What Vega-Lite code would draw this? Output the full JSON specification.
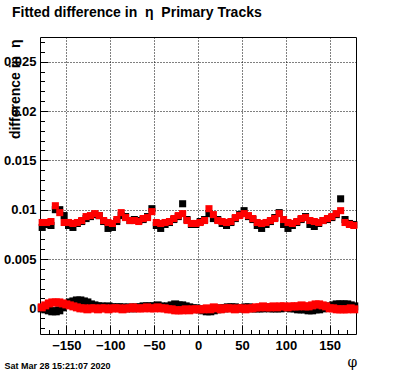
{
  "$schema": "https://vega.github.io/schema/vega-lite/v6.json",
  "width": 316,
  "height": 297,
  "autosize": "none",
  "padding": {"left": 40, "top": 37, "right": 40, "bottom": 38},
  "background": "white",
  "title": {
    "text": "Fitted difference in\u00a0\u00a0η\u00a0\u00a0Primary Tracks",
    "anchor": "start",
    "frame": "group",
    "dx": -28,
    "offset": 17,
    "font": "Liberation Sans",
    "fontWeight": "bold",
    "fontSize": 14,
    "color": "black"
  },
  "config": {
    "view": {"stroke": "black", "strokeWidth": 1},
    "axis": {
      "labelFont": "Liberation Sans",
      "labelFontWeight": "bold",
      "labelFontSize": 13,
      "labelColor": "black",
      "tickColor": "black",
      "domainColor": "black",
      "titleColor": "black",
      "gridColor": "black",
      "gridDash": [1, 2],
      "gridOpacity": 1,
      "gridWidth": 1
    }
  },
  "data": {
    "values": [
      {"s":"ru","phi":-177.5,"d":0.0087},{"s":"ru","phi":-172.5,"d":0.0087},{"s":"ru","phi":-167.5,"d":0.0088},{"s":"ru","phi":-162.5,"d":0.0104},{"s":"ru","phi":-157.5,"d":0.0097},{"s":"ru","phi":-152.5,"d":0.0087},{"s":"ru","phi":-147.5,"d":0.0087},{"s":"ru","phi":-142.5,"d":0.0086},{"s":"ru","phi":-137.5,"d":0.0087},{"s":"ru","phi":-132.5,"d":0.0089},{"s":"ru","phi":-127.5,"d":0.0093},{"s":"ru","phi":-122.5,"d":0.0094},{"s":"ru","phi":-117.5,"d":0.0096},{"s":"ru","phi":-112.5,"d":0.0094},{"s":"ru","phi":-107.5,"d":0.0089},{"s":"ru","phi":-102.5,"d":0.0087},{"s":"ru","phi":-97.5,"d":0.0086},{"s":"ru","phi":-92.5,"d":0.0090},{"s":"ru","phi":-87.5,"d":0.0097},{"s":"ru","phi":-82.5,"d":0.0092},{"s":"ru","phi":-77.5,"d":0.0089},{"s":"ru","phi":-72.5,"d":0.0089},{"s":"ru","phi":-67.5,"d":0.0088},{"s":"ru","phi":-62.5,"d":0.0091},{"s":"ru","phi":-57.5,"d":0.0092},{"s":"ru","phi":-52.5,"d":0.0098},{"s":"ru","phi":-47.5,"d":0.0087},{"s":"ru","phi":-42.5,"d":0.0086},{"s":"ru","phi":-37.5,"d":0.0087},{"s":"ru","phi":-32.5,"d":0.0088},{"s":"ru","phi":-27.5,"d":0.0091},{"s":"ru","phi":-22.5,"d":0.0094},{"s":"ru","phi":-17.5,"d":0.0096},{"s":"ru","phi":-12.5,"d":0.0089},{"s":"ru","phi":-7.5,"d":0.0086},{"s":"ru","phi":-2.5,"d":0.0086},{"s":"ru","phi":2.5,"d":0.0087},{"s":"ru","phi":7.5,"d":0.0089},{"s":"ru","phi":12.5,"d":0.0101},{"s":"ru","phi":17.5,"d":0.0095},{"s":"ru","phi":22.5,"d":0.0089},{"s":"ru","phi":27.5,"d":0.0088},{"s":"ru","phi":32.5,"d":0.0087},{"s":"ru","phi":37.5,"d":0.0088},{"s":"ru","phi":42.5,"d":0.0092},{"s":"ru","phi":47.5,"d":0.0094},{"s":"ru","phi":52.5,"d":0.0096},{"s":"ru","phi":57.5,"d":0.0094},{"s":"ru","phi":62.5,"d":0.0091},{"s":"ru","phi":67.5,"d":0.0087},{"s":"ru","phi":72.5,"d":0.0086},{"s":"ru","phi":77.5,"d":0.0087},{"s":"ru","phi":82.5,"d":0.0089},{"s":"ru","phi":87.5,"d":0.0091},{"s":"ru","phi":92.5,"d":0.0096},{"s":"ru","phi":97.5,"d":0.0090},{"s":"ru","phi":102.5,"d":0.0087},{"s":"ru","phi":107.5,"d":0.0086},{"s":"ru","phi":112.5,"d":0.0088},{"s":"ru","phi":117.5,"d":0.0091},{"s":"ru","phi":122.5,"d":0.0092},{"s":"ru","phi":127.5,"d":0.0089},{"s":"ru","phi":132.5,"d":0.0088},{"s":"ru","phi":137.5,"d":0.0087},{"s":"ru","phi":142.5,"d":0.0089},{"s":"ru","phi":147.5,"d":0.0091},{"s":"ru","phi":152.5,"d":0.0093},{"s":"ru","phi":157.5,"d":0.0096},{"s":"ru","phi":162.5,"d":0.0099},{"s":"ru","phi":167.5,"d":0.0087},{"s":"ru","phi":172.5,"d":0.0085},{"s":"ru","phi":177.5,"d":0.0084},

      {"s":"bu","phi":-177.5,"d":0.0082},{"s":"bu","phi":-172.5,"d":0.0085},{"s":"bu","phi":-167.5,"d":0.0084},{"s":"bu","phi":-162.5,"d":0.0100},{"s":"bu","phi":-157.5,"d":0.0100},{"s":"bu","phi":-152.5,"d":0.0094},{"s":"bu","phi":-147.5,"d":0.0084},{"s":"bu","phi":-142.5,"d":0.0082},{"s":"bu","phi":-137.5,"d":0.0086},{"s":"bu","phi":-132.5,"d":0.0088},{"s":"bu","phi":-127.5,"d":0.0091},{"s":"bu","phi":-122.5,"d":0.0093},{"s":"bu","phi":-117.5,"d":0.0095},{"s":"bu","phi":-112.5,"d":0.0094},{"s":"bu","phi":-107.5,"d":0.0088},{"s":"bu","phi":-102.5,"d":0.0081},{"s":"bu","phi":-97.5,"d":0.0082},{"s":"bu","phi":-92.5,"d":0.0088},{"s":"bu","phi":-87.5,"d":0.0094},{"s":"bu","phi":-82.5,"d":0.0093},{"s":"bu","phi":-77.5,"d":0.0089},{"s":"bu","phi":-72.5,"d":0.0090},{"s":"bu","phi":-67.5,"d":0.0089},{"s":"bu","phi":-62.5,"d":0.0090},{"s":"bu","phi":-57.5,"d":0.0093},{"s":"bu","phi":-52.5,"d":0.0101},{"s":"bu","phi":-47.5,"d":0.0084},{"s":"bu","phi":-42.5,"d":0.0081},{"s":"bu","phi":-37.5,"d":0.0085},{"s":"bu","phi":-32.5,"d":0.0087},{"s":"bu","phi":-27.5,"d":0.0090},{"s":"bu","phi":-22.5,"d":0.0093},{"s":"bu","phi":-17.5,"d":0.0106},{"s":"bu","phi":-12.5,"d":0.0090},{"s":"bu","phi":-7.5,"d":0.0085},{"s":"bu","phi":-2.5,"d":0.0085},{"s":"bu","phi":2.5,"d":0.0088},{"s":"bu","phi":7.5,"d":0.0090},{"s":"bu","phi":12.5,"d":0.0096},{"s":"bu","phi":17.5,"d":0.0091},{"s":"bu","phi":22.5,"d":0.0090},{"s":"bu","phi":27.5,"d":0.0086},{"s":"bu","phi":32.5,"d":0.0084},{"s":"bu","phi":37.5,"d":0.0087},{"s":"bu","phi":42.5,"d":0.0091},{"s":"bu","phi":47.5,"d":0.0095},{"s":"bu","phi":52.5,"d":0.0099},{"s":"bu","phi":57.5,"d":0.0093},{"s":"bu","phi":62.5,"d":0.0090},{"s":"bu","phi":67.5,"d":0.0084},{"s":"bu","phi":72.5,"d":0.0081},{"s":"bu","phi":77.5,"d":0.0085},{"s":"bu","phi":82.5,"d":0.0088},{"s":"bu","phi":87.5,"d":0.0092},{"s":"bu","phi":92.5,"d":0.0097},{"s":"bu","phi":97.5,"d":0.0085},{"s":"bu","phi":102.5,"d":0.0081},{"s":"bu","phi":107.5,"d":0.0084},{"s":"bu","phi":112.5,"d":0.0087},{"s":"bu","phi":117.5,"d":0.0090},{"s":"bu","phi":122.5,"d":0.0093},{"s":"bu","phi":127.5,"d":0.0085},{"s":"bu","phi":132.5,"d":0.0083},{"s":"bu","phi":137.5,"d":0.0086},{"s":"bu","phi":142.5,"d":0.0089},{"s":"bu","phi":147.5,"d":0.0090},{"s":"bu","phi":152.5,"d":0.0092},{"s":"bu","phi":157.5,"d":0.0095},{"s":"bu","phi":162.5,"d":0.0111},{"s":"bu","phi":167.5,"d":0.0090},{"s":"bu","phi":172.5,"d":0.0086},{"s":"bu","phi":177.5,"d":0.0085},

      {"s":"rl","phi":-178,"d":0.0001},{"s":"rl","phi":-174,"d":0.0003},{"s":"rl","phi":-170,"d":0.0005},{"s":"rl","phi":-166,"d":0.0006},{"s":"rl","phi":-162,"d":0.0006},{"s":"rl","phi":-158,"d":0.0006},{"s":"rl","phi":-154,"d":0.0005},{"s":"rl","phi":-150,"d":0.0004},{"s":"rl","phi":-146,"d":0.0003},{"s":"rl","phi":-142,"d":0.0002},{"s":"rl","phi":-138,"d":0.0001},{"s":"rl","phi":-134,"d":0.0000},{"s":"rl","phi":-130,"d":0.0000},{"s":"rl","phi":-126,"d":-0.0001},{"s":"rl","phi":-122,"d":0.0000},{"s":"rl","phi":-118,"d":0.0000},{"s":"rl","phi":-114,"d":-0.0001},{"s":"rl","phi":-110,"d":0.0000},{"s":"rl","phi":-106,"d":0.0000},{"s":"rl","phi":-102,"d":-0.0001},{"s":"rl","phi":-98,"d":0.0000},{"s":"rl","phi":-94,"d":0.0000},{"s":"rl","phi":-90,"d":0.0000},{"s":"rl","phi":-86,"d":-0.0001},{"s":"rl","phi":-82,"d":0.0000},{"s":"rl","phi":-78,"d":0.0000},{"s":"rl","phi":-74,"d":0.0001},{"s":"rl","phi":-70,"d":0.0000},{"s":"rl","phi":-66,"d":0.0000},{"s":"rl","phi":-62,"d":0.0000},{"s":"rl","phi":-58,"d":0.0001},{"s":"rl","phi":-54,"d":0.0000},{"s":"rl","phi":-50,"d":0.0000},{"s":"rl","phi":-46,"d":0.0001},{"s":"rl","phi":-42,"d":0.0000},{"s":"rl","phi":-38,"d":0.0000},{"s":"rl","phi":-34,"d":-0.0001},{"s":"rl","phi":-30,"d":-0.0001},{"s":"rl","phi":-26,"d":-0.0002},{"s":"rl","phi":-22,"d":-0.0002},{"s":"rl","phi":-18,"d":-0.0002},{"s":"rl","phi":-14,"d":-0.0001},{"s":"rl","phi":-10,"d":-0.0002},{"s":"rl","phi":-6,"d":-0.0001},{"s":"rl","phi":-2,"d":-0.0001},{"s":"rl","phi":2,"d":-0.0001},{"s":"rl","phi":6,"d":-0.0001},{"s":"rl","phi":10,"d":0.0000},{"s":"rl","phi":14,"d":-0.0001},{"s":"rl","phi":18,"d":0.0001},{"s":"rl","phi":22,"d":0.0000},{"s":"rl","phi":26,"d":-0.0001},{"s":"rl","phi":30,"d":0.0000},{"s":"rl","phi":34,"d":0.0000},{"s":"rl","phi":38,"d":0.0000},{"s":"rl","phi":42,"d":-0.0001},{"s":"rl","phi":46,"d":0.0000},{"s":"rl","phi":50,"d":0.0000},{"s":"rl","phi":54,"d":-0.0001},{"s":"rl","phi":58,"d":0.0000},{"s":"rl","phi":62,"d":0.0000},{"s":"rl","phi":66,"d":0.0001},{"s":"rl","phi":70,"d":0.0001},{"s":"rl","phi":74,"d":0.0002},{"s":"rl","phi":78,"d":0.0001},{"s":"rl","phi":82,"d":0.0001},{"s":"rl","phi":86,"d":0.0002},{"s":"rl","phi":90,"d":0.0001},{"s":"rl","phi":94,"d":0.0002},{"s":"rl","phi":98,"d":0.0002},{"s":"rl","phi":102,"d":0.0001},{"s":"rl","phi":106,"d":0.0002},{"s":"rl","phi":110,"d":0.0002},{"s":"rl","phi":114,"d":0.0002},{"s":"rl","phi":118,"d":0.0003},{"s":"rl","phi":122,"d":0.0002},{"s":"rl","phi":126,"d":0.0002},{"s":"rl","phi":130,"d":0.0003},{"s":"rl","phi":134,"d":0.0004},{"s":"rl","phi":138,"d":0.0004},{"s":"rl","phi":142,"d":0.0003},{"s":"rl","phi":146,"d":0.0002},{"s":"rl","phi":150,"d":0.0000},{"s":"rl","phi":154,"d":0.0000},{"s":"rl","phi":158,"d":-0.0001},{"s":"rl","phi":162,"d":-0.0001},{"s":"rl","phi":166,"d":-0.0001},{"s":"rl","phi":170,"d":-0.0001},{"s":"rl","phi":174,"d":0.0000},{"s":"rl","phi":178,"d":-0.0001},

      {"s":"bl","phi":-178,"d":0.0000},{"s":"bl","phi":-174,"d":-0.0001},{"s":"bl","phi":-170,"d":-0.0002},{"s":"bl","phi":-166,"d":-0.0003},{"s":"bl","phi":-162,"d":-0.0003},{"s":"bl","phi":-158,"d":-0.0002},{"s":"bl","phi":-154,"d":0.0001},{"s":"bl","phi":-150,"d":0.0004},{"s":"bl","phi":-146,"d":0.0006},{"s":"bl","phi":-142,"d":0.0007},{"s":"bl","phi":-138,"d":0.0008},{"s":"bl","phi":-134,"d":0.0008},{"s":"bl","phi":-130,"d":0.0007},{"s":"bl","phi":-126,"d":0.0006},{"s":"bl","phi":-122,"d":0.0004},{"s":"bl","phi":-118,"d":0.0003},{"s":"bl","phi":-114,"d":0.0002},{"s":"bl","phi":-110,"d":0.0002},{"s":"bl","phi":-106,"d":0.0001},{"s":"bl","phi":-102,"d":0.0002},{"s":"bl","phi":-98,"d":0.0001},{"s":"bl","phi":-94,"d":0.0001},{"s":"bl","phi":-90,"d":0.0001},{"s":"bl","phi":-86,"d":0.0001},{"s":"bl","phi":-82,"d":0.0000},{"s":"bl","phi":-78,"d":0.0001},{"s":"bl","phi":-74,"d":0.0000},{"s":"bl","phi":-70,"d":0.0001},{"s":"bl","phi":-66,"d":0.0001},{"s":"bl","phi":-62,"d":0.0002},{"s":"bl","phi":-58,"d":0.0002},{"s":"bl","phi":-54,"d":0.0002},{"s":"bl","phi":-50,"d":0.0002},{"s":"bl","phi":-46,"d":0.0003},{"s":"bl","phi":-42,"d":0.0002},{"s":"bl","phi":-38,"d":0.0001},{"s":"bl","phi":-34,"d":0.0002},{"s":"bl","phi":-30,"d":0.0003},{"s":"bl","phi":-26,"d":0.0004},{"s":"bl","phi":-22,"d":0.0003},{"s":"bl","phi":-18,"d":0.0003},{"s":"bl","phi":-14,"d":0.0002},{"s":"bl","phi":-10,"d":0.0001},{"s":"bl","phi":-6,"d":0.0000},{"s":"bl","phi":-2,"d":0.0000},{"s":"bl","phi":2,"d":-0.0001},{"s":"bl","phi":6,"d":-0.0002},{"s":"bl","phi":10,"d":-0.0003},{"s":"bl","phi":14,"d":-0.0003},{"s":"bl","phi":18,"d":-0.0002},{"s":"bl","phi":22,"d":-0.0001},{"s":"bl","phi":26,"d":0.0000},{"s":"bl","phi":30,"d":0.0000},{"s":"bl","phi":34,"d":0.0001},{"s":"bl","phi":38,"d":0.0001},{"s":"bl","phi":42,"d":0.0001},{"s":"bl","phi":46,"d":0.0000},{"s":"bl","phi":50,"d":0.0000},{"s":"bl","phi":54,"d":0.0001},{"s":"bl","phi":58,"d":0.0001},{"s":"bl","phi":62,"d":0.0000},{"s":"bl","phi":66,"d":0.0000},{"s":"bl","phi":70,"d":0.0000},{"s":"bl","phi":74,"d":0.0000},{"s":"bl","phi":78,"d":0.0001},{"s":"bl","phi":82,"d":0.0000},{"s":"bl","phi":86,"d":0.0000},{"s":"bl","phi":90,"d":0.0000},{"s":"bl","phi":94,"d":0.0000},{"s":"bl","phi":98,"d":0.0001},{"s":"bl","phi":102,"d":0.0001},{"s":"bl","phi":106,"d":0.0000},{"s":"bl","phi":110,"d":0.0000},{"s":"bl","phi":114,"d":-0.0001},{"s":"bl","phi":118,"d":-0.0001},{"s":"bl","phi":122,"d":-0.0001},{"s":"bl","phi":126,"d":-0.0002},{"s":"bl","phi":130,"d":-0.0002},{"s":"bl","phi":134,"d":-0.0001},{"s":"bl","phi":138,"d":-0.0001},{"s":"bl","phi":142,"d":0.0000},{"s":"bl","phi":146,"d":0.0001},{"s":"bl","phi":150,"d":0.0002},{"s":"bl","phi":154,"d":0.0003},{"s":"bl","phi":158,"d":0.0004},{"s":"bl","phi":162,"d":0.0004},{"s":"bl","phi":166,"d":0.0004},{"s":"bl","phi":170,"d":0.0004},{"s":"bl","phi":174,"d":0.0003},{"s":"bl","phi":178,"d":0.0002}
    ]
  },
  "resolve": {"axis": {"x": "independent", "y": "independent"}},
  "layer": [
    {
      "transform": [{"filter": "datum.s === 'bl'"}],
      "mark": {"type": "square", "color": "black", "opacity": 1, "size": 64},
      "encoding": {
        "x": {"field": "phi", "type": "quantitative",
          "scale": {"domain": [-180, 180], "nice": false, "zero": false},
          "axis": {"orient": "bottom", "values": [-170,-160,-140,-130,-120,-110,-90,-80,-70,-60,-40,-30,-20,-10,10,20,30,40,60,70,80,90,110,120,130,140,160,170],
            "tickSize": -4.5, "labels": false, "grid": false, "domain": false,
            "title": "Sat Mar 28 15:21:07 2020", "titleFont": "Liberation Sans", "titleFontWeight": "bold", "titleFontSize": 9,
            "titleAnchor": null, "titleX": -36, "titleY": 34, "titleAlign": "left", "titleBaseline": "alphabetic"}},
        "y": {"field": "d", "type": "quantitative",
          "scale": {"domain": [-0.0026, 0.0275], "nice": false, "zero": false},
          "axis": {"orient": "left", "values": [-0.002,-0.001,0.001,0.002,0.003,0.004,0.006,0.007,0.008,0.009,0.011,0.012,0.013,0.014,0.016,0.017,0.018,0.019,0.021,0.022,0.023,0.024,0.026,0.027],
            "tickSize": -4.5, "labels": false, "grid": false, "domain": false, "title": null}}
      }
    },
    {
      "transform": [{"filter": "datum.s === 'bu'"}],
      "mark": {"type": "square", "color": "black", "opacity": 1, "size": 50},
      "encoding": {
        "x": {"field": "phi", "type": "quantitative", "axis": null},
        "y": {"field": "d", "type": "quantitative", "axis": null}
      }
    },
    {
      "transform": [{"filter": "datum.s === 'rl'"}],
      "mark": {"type": "square", "color": "#ff0000", "opacity": 1, "size": 64},
      "encoding": {
        "x": {"field": "phi", "type": "quantitative", "axis": null},
        "y": {"field": "d", "type": "quantitative", "axis": null}
      }
    },
    {
      "transform": [{"filter": "datum.s === 'ru'"}],
      "mark": {"type": "square", "color": "#ff0000", "opacity": 1, "size": 50},
      "encoding": {
        "x": {"field": "phi", "type": "quantitative",
          "axis": {"orient": "bottom", "values": [-150,-100,-50,0,50,100,150], "format": "d",
            "tickSize": -9, "labelPadding": 14, "grid": true, "domain": false,
            "title": "φ", "titleFont": "DejaVu Serif", "titleFontWeight": "normal", "titleFontSize": 14,
            "titleAnchor": null, "titleX": 312, "titleY": 32, "titleAlign": "center", "titleBaseline": "alphabetic"}},
        "y": {"field": "d", "type": "quantitative",
          "axis": {"orient": "left", "values": [0,0.005,0.01,0.015,0.02,0.025], "format": "~g",
            "tickSize": -8, "labelPadding": 12, "grid": true, "domain": false,
            "title": "difference in\u00a0\u00a0η", "titleFont": "Liberation Sans", "titleFontWeight": "bold", "titleFontSize": 14,
            "titleAnchor": null, "titleAngle": -90, "titleX": -25, "titleY": 2, "titleAlign": "right", "titleBaseline": "middle"}}
      }
    }
  ]
}
